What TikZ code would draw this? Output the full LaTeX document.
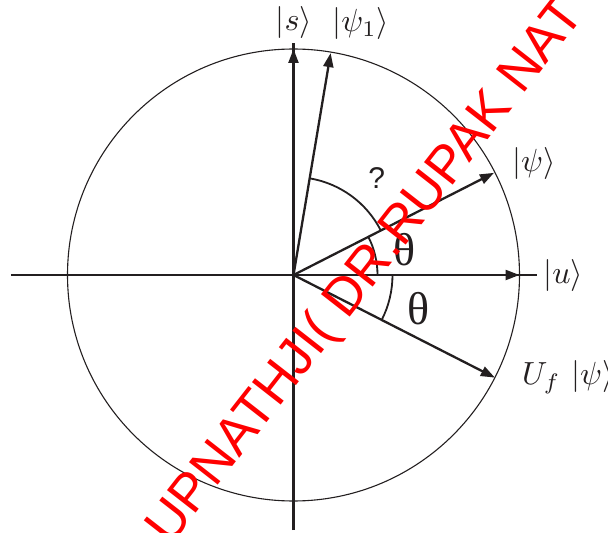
\documentclass[tikz,border=0pt]{standalone}
\usepackage{fontspec}
\newfontfamily\wmfont{Liberation Sans}
\newfontfamily\grfont{Liberation Serif}
\usetikzlibrary{arrows.meta}
\definecolor{inkc}{RGB}{35,31,32}
\begin{document}
\begin{tikzpicture}[x=1pt,y=1pt,
  circ/.style={draw=inkc, line width=1.1pt},
  axisline/.style={draw=inkc, line width=2.2pt},
  vec/.style={draw=inkc, line width=2.3pt, -{Triangle[length=14pt,width=10pt]}},
  anglearc/.style={draw=inkc, line width=1.8pt},
  ket/.style={font=\fontsize{10}{12}\selectfont, scale=3.2, inner sep=0pt, text=inkc},
  thlab/.style={font=\grfont\fontsize{46}{50}\selectfont, inner sep=0pt, text=inkc},
  qlab/.style={font=\wmfont\fontsize{30}{34}\selectfont, inner sep=0pt, text=inkc},
  wm/.style={font=\wmfont\fontsize{53}{60}\selectfont, text=red, inner sep=0pt, rotate=52, anchor=base west}]
\useasboundingbox (-293.5,-258) rectangle (314.5,275);
\clip (-293.5,-258) rectangle (314.5,275);
% coordinates
\coordinate (O) at (0,0);
\coordinate (L) at (-282.5,0);
\coordinate (R) at (243.5,0);
\coordinate (B) at (0,-255);
\coordinate (T) at (0,232);
\coordinate (Utip) at (0:226);
\coordinate (Stip) at (90:226);
\coordinate (Ptip) at (27:225);
\coordinate (P1tip) at (80.5:225);
\coordinate (Ftip) at (-27:226);
% circle
\draw[circ] (O) circle[radius=226];
% axes
\draw[axisline] (L) -- (R);
\draw[axisline] (B) -- (T);
% angle arcs
\draw[anglearc] (80.5:98) arc[start angle=80.5, end angle=27, radius=98];
\draw[anglearc] (27:84) arc[start angle=27, end angle=0, radius=84];
\draw[anglearc] (0:99) arc[start angle=0, end angle=-27, radius=99];
% vectors
\draw[vec] (O) -- (Utip);
\draw[vec] (O) -- (Stip);
\draw[vec] (O) -- (Ptip);
\draw[vec] (O) -- (P1tip);
\draw[vec] (O) -- (Ftip);
% labels
\node[ket] (ls) at (0.5,252.3) {$|s\rangle$};
\node[ket] (lp1) at (67.3,251) {$|\psi_1\rangle$};
\node[ket] (lp) at (240.5,111.7) {$|\psi\rangle$};
\node[ket] (lu) at (269.8,-0.8) {$|u\rangle$};
\node[ket, anchor=west] (lf) at (228,-102) {$U_f\mkern6mu|\psi\rangle$};
\node[qlab] (q) at (83.2,96.7) {?};
\node[thlab] (th1) at (111.5,25) {θ};
\node[thlab] (th2) at (124.8,-33.3) {θ};
% watermark
\node[wm] (wmk) at (-123.5,-272) {UPNATHJI( DR.RUPAK NAT};
\end{tikzpicture}
\end{document}
